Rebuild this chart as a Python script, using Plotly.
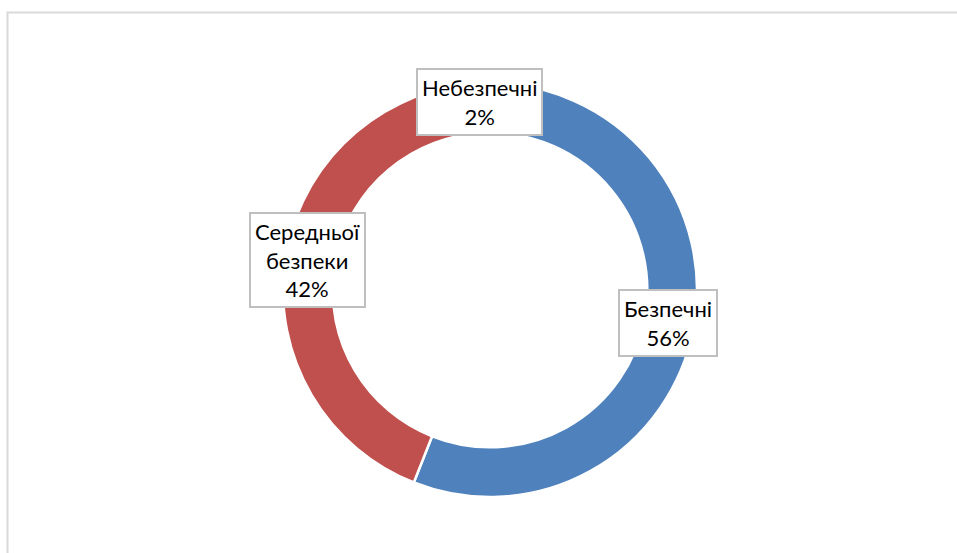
import plotly.graph_objects as go

# Share of objects by safety level
categories = ["Безпечні", "Середньої безпеки", "Небезпечні"]
shares = [56, 42, 2]
colors = ["#4F81BD", "#C0504D", "#9BBB59"]

# Label box centres (pixels in a 957x553 canvas)
label_centres = [(668, 323), (307, 260), (479, 102)]

W, H = 957, 553
cx, cy, R = 490, 290, 207

fig = go.Figure(
    go.Pie(
        labels=categories,
        values=shares,
        hole=0.76,
        sort=False,
        direction="clockwise",
        rotation=0,
        marker=dict(colors=colors, line=dict(color="white", width=2.5)),
        textinfo="none",
        hoverinfo="label+percent",
        showlegend=False,
        domain=dict(
            x=[(cx - R) / W, (cx + R) / W],
            y=[1 - (cy + R) / H, 1 - (cy - R) / H],
        ),
    )
)

annotations = []
for name, val, (px, py) in zip(categories, shares, label_centres):
    annotations.append(
        dict(
            text=name.replace(" ", "<br>") + f"<br>{val}%",
            x=px / W,
            y=1 - py / H,
            xref="paper",
            yref="paper",
            xanchor="center",
            yanchor="middle",
            showarrow=False,
            align="center",
            font=dict(family="Lato, Open Sans, sans-serif", size=22, color="#000000"),
            bgcolor="white",
            bordercolor="#BFBFBF",
            borderwidth=2,
            borderpad=4,
        )
    )

fig.update_layout(
    width=W,
    height=H,
    margin=dict(l=0, r=0, t=0, b=0),
    paper_bgcolor="white",
    plot_bgcolor="white",
    annotations=annotations,
    shapes=[
        dict(
            type="rect",
            xref="paper",
            yref="paper",
            x0=7.5 / W,
            x1=1.02,
            y0=-0.02,
            y1=1 - 12.5 / H,
            line=dict(color="#D9D9D9", width=2),
            fillcolor="rgba(0,0,0,0)",
            layer="below",
        )
    ],
)

fig.write_html("out.html")
